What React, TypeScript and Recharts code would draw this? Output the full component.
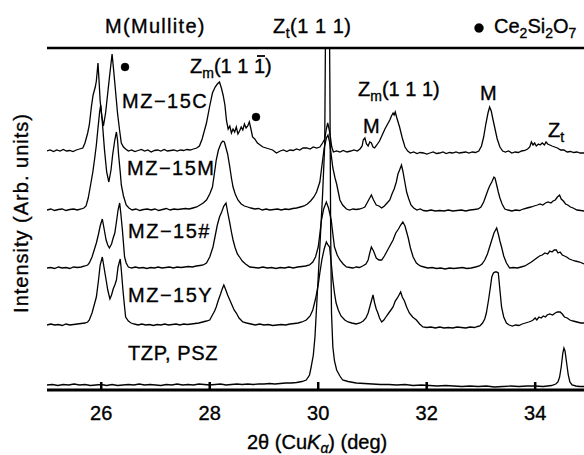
import { LineChart, Line, XAxis, YAxis, ReferenceLine, Customized } from 'recharts';

// 2θ (deg), height above the trace's own baseline (arb. units)
const mz15C: [number, number][] = [
  [25.0, 0], [25.06, 1], [25.12, -0.5], [25.18, 1], [25.24, 0], [25.3, 1.5], [25.36, 0], [25.42, 0.5],
  [25.48, -0.5], [25.54, 1], [25.6, 2], [25.66, 3], [25.7, 8], [25.75, 18], [25.78, 26], [25.82, 45],
  [25.85, 56], [25.89, 64], [25.91, 70], [25.94, 88], [25.96, 70], [25.98, 50], [26.01, 35], [26.04, 25],
  [26.08, 38], [26.12, 58], [26.16, 78], [26.2, 97], [26.23, 80], [26.26, 62], [26.3, 38], [26.34, 20],
  [26.37, 8], [26.41, 4], [26.45, 2], [26.5, 0], [26.56, 1], [26.62, -0.5], [26.68, 0.5], [26.74, 1.5],
  [26.8, 0], [26.86, 1], [26.92, -1], [26.98, 0.5], [27.04, 1], [27.1, 0], [27.16, 1.5], [27.22, 0],
  [27.28, 0.5], [27.34, 1], [27.4, 0], [27.46, 1], [27.52, 0.5], [27.58, 1.5], [27.64, 1], [27.7, 2],
  [27.76, 3], [27.81, 5], [27.86, 12], [27.9, 20], [27.94, 28], [28.0, 45], [28.05, 58], [28.1, 64],
  [28.14, 67], [28.18, 69], [28.22, 62], [28.25, 55], [28.28, 46], [28.31, 30], [28.34, 22], [28.37, 25],
  [28.4, 18], [28.43, 22], [28.46, 19], [28.49, 24], [28.52, 17], [28.55, 20], [28.58, 24], [28.61, 21],
  [28.64, 27], [28.67, 23], [28.7, 25], [28.73, 29], [28.76, 22], [28.79, 14], [28.83, 12], [28.88, 8],
  [28.93, 6], [28.98, 4], [29.04, 3], [29.1, 2], [29.16, 1], [29.23, -2], [29.3, 0], [29.36, 1],
  [29.42, -0.5], [29.48, 1], [29.54, 0.5], [29.6, 2], [29.66, 1], [29.72, 3], [29.79, 3], [29.85, 2],
  [29.91, 4], [29.97, 3], [30.03, 4], [30.08, 8], [30.12, 12], [30.15, 22], [30.175, 28], [30.2, 22],
  [30.225, 14], [30.25, 4], [30.28, -1], [30.34, 0], [30.4, -1], [30.46, 0.5], [30.53, -1], [30.6, 0],
  [30.66, 1], [30.72, 0], [30.77, 2], [30.81, 5], [30.83, 11], [30.86, 13], [30.89, 7], [30.92, 5],
  [30.95, 9], [30.98, 8], [31.01, 4], [31.04, 3], [31.08, 6], [31.13, 10], [31.18, 16], [31.23, 22],
  [31.28, 27], [31.32, 31], [31.35, 35], [31.38, 38], [31.4, 36], [31.42, 39], [31.45, 33], [31.5, 24],
  [31.55, 13], [31.6, 4], [31.65, 0], [31.7, -2], [31.76, -1], [31.82, -2.5], [31.88, -1.5], [31.94, -2],
  [32.0, -3], [32.06, -2], [32.12, -1], [32.18, -2.5], [32.24, -2], [32.3, -1], [32.36, -2.5], [32.42, -1.5],
  [32.48, -2], [32.54, -1], [32.6, -2], [32.66, -1.5], [32.72, -1], [32.78, -2], [32.84, -1], [32.9, -1.5],
  [32.96, 0], [33.01, 5], [33.05, 14], [33.09, 27], [33.13, 38], [33.16, 44], [33.19, 40], [33.22, 32],
  [33.26, 22], [33.3, 12], [33.35, 4], [33.4, 0], [33.45, -1], [33.51, 0], [33.57, -2], [33.63, -1],
  [33.69, -1.5], [33.75, 0], [33.81, 0.5], [33.86, 2], [33.9, 4], [33.93, 9], [33.96, 6], [33.99, 8],
  [34.02, 5], [34.06, 7], [34.09, 6], [34.13, 8], [34.17, 6], [34.2, 9], [34.23, 7], [34.27, 6],
  [34.31, 5], [34.36, 4], [34.41, 3], [34.47, 1], [34.53, 1], [34.59, -1], [34.65, -0.5], [34.71, -1.5],
  [34.77, -1], [34.83, -2], [34.9, -2],
];

const mz15M: [number, number][] = [
  [25.0, 0], [25.07, 1], [25.14, -0.5], [25.21, 0.5], [25.28, 1], [25.35, -0.5], [25.42, 0.5], [25.49, 1],
  [25.56, 0], [25.63, 1], [25.68, 2], [25.72, 4], [25.76, 12], [25.8, 24], [25.845, 38], [25.88, 52],
  [25.91, 65], [25.94, 82], [25.97, 98], [25.99, 105], [26.02, 88], [26.06, 60], [26.1, 38], [26.14, 28],
  [26.18, 40], [26.21, 55], [26.25, 70], [26.28, 78], [26.3, 70], [26.32, 55], [26.35, 38], [26.37, 25],
  [26.41, 14], [26.46, 5], [26.51, 2], [26.57, 0], [26.64, 1], [26.71, -0.5], [26.78, 0.5], [26.85, 1],
  [26.92, 0], [26.99, 1], [27.06, -0.5], [27.13, 0.5], [27.2, 1.5], [27.27, 0], [27.34, 1], [27.41, 0.5],
  [27.48, 1], [27.55, 1.5], [27.62, 1], [27.69, 2], [27.76, 3], [27.82, 5], [27.88, 7], [27.94, 10],
  [28.0, 16], [28.05, 23], [28.09, 38], [28.12, 50], [28.16, 60], [28.21, 67], [28.24, 69], [28.27, 68],
  [28.3, 62], [28.33, 56], [28.37, 43], [28.4, 32], [28.43, 23], [28.47, 16], [28.52, 10], [28.58, 6],
  [28.64, 4], [28.7, 3], [28.76, 2], [28.83, 1], [28.9, 1.5], [28.97, 0], [29.04, 1], [29.11, 0],
  [29.18, 0.5], [29.25, 1], [29.32, 0], [29.39, 1], [29.46, 0.5], [29.53, 1.5], [29.6, 2], [29.67, 3],
  [29.74, 4], [29.8, 6], [29.86, 9], [29.92, 13], [29.97, 18], [30.03, 28], [30.07, 45], [30.11, 62],
  [30.15, 72], [30.18, 75], [30.21, 68], [30.24, 55], [30.27, 42], [30.31, 32], [30.34, 26], [30.37, 18],
  [30.4, 10], [30.45, 5], [30.52, 1], [30.58, 0], [30.64, 1], [30.7, 0.5], [30.76, 1], [30.82, 2],
  [30.86, 3], [30.9, 7], [30.94, 11], [30.98, 15], [31.02, 10], [31.07, 5], [31.12, 4], [31.17, 2],
  [31.22, 4], [31.27, 7], [31.32, 10], [31.36, 16], [31.4, 21], [31.44, 28], [31.47, 36], [31.5, 40],
  [31.535, 45], [31.56, 39], [31.59, 30], [31.63, 18], [31.67, 11], [31.71, 5], [31.76, 2], [31.82, 0],
  [31.88, 1], [31.94, -0.5], [32.0, -1], [32.08, 0], [32.16, -1], [32.24, -0.5], [32.32, -1], [32.4, 0],
  [32.48, -1], [32.56, -0.5], [32.64, 0], [32.72, -1], [32.8, 0], [32.88, 0.5], [32.95, 1], [33.0, 3],
  [33.05, 8], [33.09, 14], [33.13, 20], [33.16, 24], [33.2, 28], [33.24, 33], [33.26, 32], [33.29, 25],
  [33.32, 18], [33.35, 12], [33.39, 6], [33.44, 1], [33.5, 0], [33.57, -1], [33.64, 0], [33.71, -0.5],
  [33.78, 1], [33.85, 2], [33.92, 3], [33.98, 4], [34.04, 5], [34.09, 6], [34.14, 5], [34.19, 7],
  [34.24, 8], [34.29, 7], [34.33, 9], [34.37, 10], [34.41, 13], [34.45, 15], [34.48, 11], [34.52, 9],
  [34.56, 6], [34.6, 5], [34.65, 3], [34.7, 2], [34.77, 0], [34.84, -0.5], [34.9, -1],
];

const mz15H: [number, number][] = [
  [25.0, 0], [25.07, 0.5], [25.14, -0.5], [25.21, 1], [25.28, 0], [25.35, 0.5], [25.42, -0.5], [25.49, 1],
  [25.56, 0.5], [25.63, 1], [25.7, 2], [25.75, 3], [25.78, 5], [25.83, 11], [25.87, 18], [25.91, 25],
  [25.95, 34], [25.98, 42], [26.02, 49], [26.05, 40], [26.09, 28], [26.12, 23], [26.15, 20], [26.19, 24],
  [26.22, 30], [26.25, 35], [26.28, 46], [26.31, 58], [26.34, 65], [26.36, 55], [26.39, 38], [26.43, 11],
  [26.46, 5], [26.5, 1], [26.56, 0], [26.63, 1], [26.7, 0], [26.77, 0.5], [26.84, -0.5], [26.91, 0.5],
  [26.98, 0], [27.05, 1], [27.12, 0], [27.19, 0.5], [27.26, 1], [27.33, 0], [27.4, 1], [27.47, 0.5],
  [27.54, 1], [27.61, 1.5], [27.68, 1], [27.75, 2], [27.82, 2.5], [27.88, 3], [27.94, 5], [28.0, 11],
  [28.06, 21], [28.1, 32], [28.14, 43], [28.18, 51], [28.22, 56], [28.26, 62], [28.3, 65], [28.33, 56],
  [28.37, 45], [28.4, 36], [28.43, 28], [28.47, 20], [28.51, 14], [28.55, 11], [28.6, 7], [28.66, 4],
  [28.74, 1], [28.82, 0.5], [28.9, 0], [28.98, 1], [29.06, 0], [29.14, 0.5], [29.22, -0.5], [29.3, 0.5],
  [29.38, 0], [29.46, 1], [29.54, 0], [29.62, 1], [29.7, 1.5], [29.77, 2], [29.84, 3], [29.9, 6],
  [29.95, 11], [30.0, 21], [30.03, 34], [30.06, 48], [30.1, 59], [30.15, 66], [30.19, 60], [30.24, 48],
  [30.27, 34], [30.3, 21], [30.35, 13], [30.4, 8], [30.46, 4], [30.52, 1], [30.58, 0.5], [30.64, 0],
  [30.7, 1], [30.76, 0.5], [30.82, 2], [30.88, 4], [30.92, 8], [30.95, 15], [30.98, 21], [31.02, 17],
  [31.07, 10], [31.12, 8], [31.17, 8], [31.22, 12], [31.27, 17], [31.32, 22], [31.38, 28], [31.43, 35],
  [31.48, 39], [31.52, 43], [31.56, 46], [31.6, 42], [31.63, 36], [31.66, 30], [31.7, 20], [31.75, 11],
  [31.81, 5], [31.88, 2], [31.95, 1], [32.02, 0], [32.1, 0.5], [32.18, -0.5], [32.26, 0], [32.34, -1],
  [32.42, 0], [32.5, -0.5], [32.58, 0], [32.66, 0.5], [32.74, -0.5], [32.82, 0], [32.9, 1], [32.97, 2],
  [33.02, 4], [33.07, 8], [33.12, 14], [33.16, 21], [33.2, 28], [33.24, 35], [33.29, 40], [33.32, 34],
  [33.35, 27], [33.38, 21], [33.42, 12], [33.47, 5], [33.53, 0], [33.6, 0.5], [33.67, 0], [33.74, 1],
  [33.81, 2], [33.87, 4], [33.93, 6], [33.98, 8], [34.03, 10], [34.08, 12], [34.13, 13], [34.18, 15],
  [34.23, 14], [34.27, 17], [34.31, 16], [34.35, 18], [34.39, 18], [34.42, 15], [34.46, 16], [34.5, 13],
  [34.54, 12], [34.58, 11], [34.63, 9], [34.68, 8], [34.74, 7], [34.82, 6], [34.9, 4],
];

const mz15Y: [number, number][] = [
  [25.0, 0], [25.07, 1], [25.14, 0], [25.21, 0.5], [25.28, -0.5], [25.35, 1], [25.42, 0], [25.49, 0.5],
  [25.56, 1], [25.63, 1.5], [25.7, 2], [25.75, 3], [25.78, 5], [25.83, 12], [25.87, 20], [25.91, 28],
  [25.95, 45], [25.98, 60], [26.02, 68], [26.05, 58], [26.09, 45], [26.12, 35], [26.16, 26], [26.19, 30],
  [26.22, 36], [26.25, 40], [26.28, 45], [26.31, 58], [26.35, 66], [26.37, 55], [26.4, 35], [26.43, 18],
  [26.45, 8], [26.5, 4], [26.55, 2], [26.61, 1], [26.68, 0], [26.75, 1], [26.82, 0], [26.89, 0.5],
  [26.96, -0.5], [27.03, 0.5], [27.1, 0], [27.17, 1], [27.24, 0], [27.31, 0.5], [27.38, 1], [27.45, 0],
  [27.52, 1], [27.59, 0.5], [27.66, 1], [27.73, 1.5], [27.8, 2], [27.87, 3], [27.94, 4], [28.0, 5],
  [28.05, 10], [28.09, 14], [28.12, 18], [28.16, 25], [28.2, 31], [28.23, 36], [28.26, 40], [28.29, 36],
  [28.33, 30], [28.37, 25], [28.41, 20], [28.45, 15], [28.49, 12], [28.54, 7], [28.61, 3], [28.68, 2],
  [28.76, 1], [28.84, 0], [28.92, 1], [29.0, 0], [29.08, 0.5], [29.16, -0.5], [29.24, 0], [29.32, 0.5],
  [29.4, 0], [29.48, 1], [29.56, 1.5], [29.63, 2], [29.7, 3], [29.78, 5], [29.85, 9], [29.9, 15],
  [29.95, 26], [30.0, 40], [30.03, 52], [30.07, 66], [30.11, 76], [30.15, 83], [30.18, 80], [30.21, 78],
  [30.24, 62], [30.27, 45], [30.3, 32], [30.33, 22], [30.37, 15], [30.42, 9], [30.49, 5], [30.55, 3],
  [30.62, 2], [30.7, 1], [30.77, 2], [30.83, 4], [30.88, 7], [30.92, 12], [30.96, 20], [31.01, 30],
  [31.04, 22], [31.07, 16], [31.1, 12], [31.13, 7], [31.17, 3], [31.21, 5], [31.26, 9], [31.3, 12],
  [31.34, 15], [31.38, 18], [31.42, 24], [31.46, 27], [31.49, 30], [31.52, 33], [31.55, 28], [31.59, 24],
  [31.63, 18], [31.68, 12], [31.74, 8], [31.81, 5], [31.87, 1], [31.93, -2], [32.0, -2.5], [32.08, -2],
  [32.16, -3], [32.24, -2], [32.32, -3], [32.4, -2.5], [32.48, -3], [32.56, -2], [32.64, -2.5], [32.72, -3],
  [32.8, -2], [32.88, -2.5], [32.94, -1.5], [32.98, -1], [33.03, 2], [33.07, 6], [33.1, 12], [33.14, 25],
  [33.18, 40], [33.2, 48], [33.23, 52], [33.26, 53], [33.29, 53], [33.32, 52], [33.35, 35], [33.38, 18],
  [33.42, 8], [33.47, 2], [33.52, 0], [33.58, -1], [33.64, 0], [33.7, -0.5], [33.76, 1], [33.82, 2],
  [33.88, 3], [33.93, 4], [33.96, 5], [34.0, 7], [34.03, 5], [34.07, 8], [34.11, 7], [34.15, 9],
  [34.19, 8], [34.22, 10], [34.27, 11], [34.32, 10], [34.37, 12], [34.41, 13], [34.46, 13], [34.5, 11],
  [34.54, 8], [34.59, 7], [34.64, 5], [34.7, 4], [34.77, 3], [34.84, 2], [34.9, 2],
];

const tzpPsz: [number, number][] = [
  [25.0, 0], [25.1, 0.5], [25.2, -0.5], [25.3, 0.5], [25.4, 0], [25.5, 1], [25.6, 0], [25.7, 0.5],
  [25.8, -0.5], [25.9, 0], [26.0, 0.5], [26.1, -0.5], [26.2, 0.5], [26.3, -0.5], [26.4, 0], [26.5, 0.5],
  [26.6, 0], [26.7, 1], [26.8, 0], [26.9, 0.5], [27.0, 0], [27.1, -0.5], [27.2, 0.5], [27.3, 0],
  [27.4, 1], [27.5, 0], [27.6, 0.5], [27.7, 0], [27.8, 1], [27.9, 0.5], [28.0, 0], [28.1, 0.5],
  [28.2, 1], [28.3, 0], [28.4, 0.5], [28.5, 1], [28.6, 0.5], [28.7, 1], [28.8, 0.5], [28.9, 1],
  [29.0, 1], [29.1, 1.5], [29.2, 1], [29.3, 1.5], [29.4, 2], [29.5, 2], [29.6, 2.5], [29.7, 3.5],
  [29.78, 5], [29.84, 10], [29.87, 18], [29.91, 30], [29.94, 48], [29.98, 88], [30.03, 138], [30.08, 190],
  [30.12, 240], [30.14, 400], [30.165, 560], [30.2, 420], [30.215, 300], [30.23, 150], [30.245, 72], [30.27, 38],
  [30.3, 24], [30.34, 15], [30.4, 9], [30.45, 5], [30.55, 3.5], [30.7, 2], [30.85, 1.5], [31.0, 1],
  [31.15, 0.5], [31.3, 0.5], [31.45, 0], [31.6, 0.5], [31.75, -0.5], [31.9, 0], [32.05, -0.5], [32.2, -1],
  [32.35, -0.5], [32.5, -1], [32.65, -1.5], [32.8, -1], [32.95, -1.5], [33.1, -1], [33.25, -2], [33.4, -1.5],
  [33.55, -1], [33.7, -1.5], [33.85, -1], [34.0, -1], [34.15, -1.5], [34.3, -0.5], [34.38, 1], [34.42, 3],
  [34.45, 8], [34.48, 18], [34.51, 32], [34.53, 37], [34.55, 34], [34.58, 22], [34.61, 10], [34.64, 3],
  [34.68, 0], [34.75, -1], [34.82, -1.5], [34.9, -1.5],
];

const traces = [mz15C, mz15M, mz15H, mz15Y, tzpPsz];
const traceNames = ['MZ−15C', 'MZ−15M', 'MZ−15#', 'MZ−15Y', 'TZP, PSZ'];
const offsets = [239, 180, 122, 65, 5];
const xTicks = [26, 28, 30, 32, 34];

const FONT = '"Liberation Sans", Arial, Helvetica, sans-serif';

const Labels = () => (
  <g fontFamily={FONT} fontSize={20} fill="#000" stroke="#000" strokeWidth={0.35}>
    <text x={105} y={33} letterSpacing={1.3}>M(Mullite)</text>
    <text x={273} y={33} letterSpacing={0.5}>
      Z<tspan fontSize={14} dy={5}>t</tspan>
      <tspan dy={-5}>(1 1 1)</tspan>
    </text>
    <circle cx={479} cy={28} r={4.5} />
    <text x={494} y={33}>
      Ce<tspan fontSize={14} dy={5}>2</tspan>
      <tspan dy={-5}>Si</tspan>
      <tspan fontSize={14} dy={5}>2</tspan>
      <tspan dy={-5}>O</tspan>
      <tspan fontSize={14} dy={5}>7</tspan>
    </text>

    <text x={190} y={73}>
      Z<tspan fontSize={14} dy={5}>m</tspan>
      <tspan dy={-5}>(1 1 1)</tspan>
    </text>
    <line x1={257} x2={265} y1={56} y2={56} stroke="#000" strokeWidth={1.8} />
    <circle cx={125} cy={67} r={4} />
    <circle cx={256} cy={117} r={4} />

    <text x={358} y={96}>
      Z<tspan fontSize={14} dy={5}>m</tspan>
      <tspan dy={-5}>(1 1 1)</tspan>
    </text>
    <text x={363} y={133}>M</text>
    <text x={480} y={100}>M</text>
    <text x={548} y={137}>
      Z<tspan fontSize={14} dy={5}>t</tspan>
    </text>

    <text x={122} y={108} letterSpacing={1.5}>{traceNames[0]}</text>
    <text x={127} y={175} letterSpacing={1.5}>{traceNames[1]}</text>
    <text x={128} y={238} letterSpacing={1.5}>{traceNames[2]}</text>
    <text x={128} y={302} letterSpacing={1.5}>{traceNames[3]}</text>
    <text x={128} y={360} letterSpacing={0.6}>{traceNames[4]}</text>

    <text transform="translate(28,213) rotate(-90)" textAnchor="middle" letterSpacing={1}>
      Intensity (Arb. units)
    </text>
    <text x={247} y={449}>
      2θ (Cu<tspan fontStyle="italic">K</tspan>
      <tspan fontSize={14} dy={4} fontStyle="italic">α</tspan>
      <tspan dy={-4}>) (deg)</tspan>
    </text>
  </g>
);

export default function App() {
  return (
    <div style={{ position: 'absolute', left: 0, top: 0, width: 584, height: 455, background: '#fff' }}>
      <LineChart width={584} height={455} margin={{ top: 48, right: 0, bottom: 0, left: 47 }}>
        <XAxis
          type="number"
          dataKey="x"
          domain={[25, 34.9]}
          allowDataOverflow
          ticks={xTicks}
          height={65}
          tickSize={-8}
          tickMargin={24}
          axisLine={{ stroke: '#000', strokeWidth: 3 }}
          tickLine={{ stroke: '#000', strokeWidth: 2.5 }}
          tick={{ fill: '#000', stroke: '#000', strokeWidth: 0.35, fontSize: 20, fontFamily: FONT }}
        />
        <YAxis
          type="number"
          domain={[0, 342]}
          allowDataOverflow
          width={0}
          tick={false}
          tickLine={false}
          axisLine={{ stroke: '#000', strokeWidth: 2.5 }}
        />
        <ReferenceLine y={342} stroke="#000" strokeWidth={2.5} />
        {traces.map((pts, i) => (
          <Line
            key={traceNames[i]}
            name={traceNames[i]}
            data={pts.map(([x, h]) => ({ x, y: h + offsets[i] }))}
            dataKey="y"
            type="linear"
            stroke="#000"
            strokeWidth={1.3}
            dot={false}
            isAnimationActive={false}
          />
        ))}
        <Customized component={Labels} />
      </LineChart>
    </div>
  );
}
